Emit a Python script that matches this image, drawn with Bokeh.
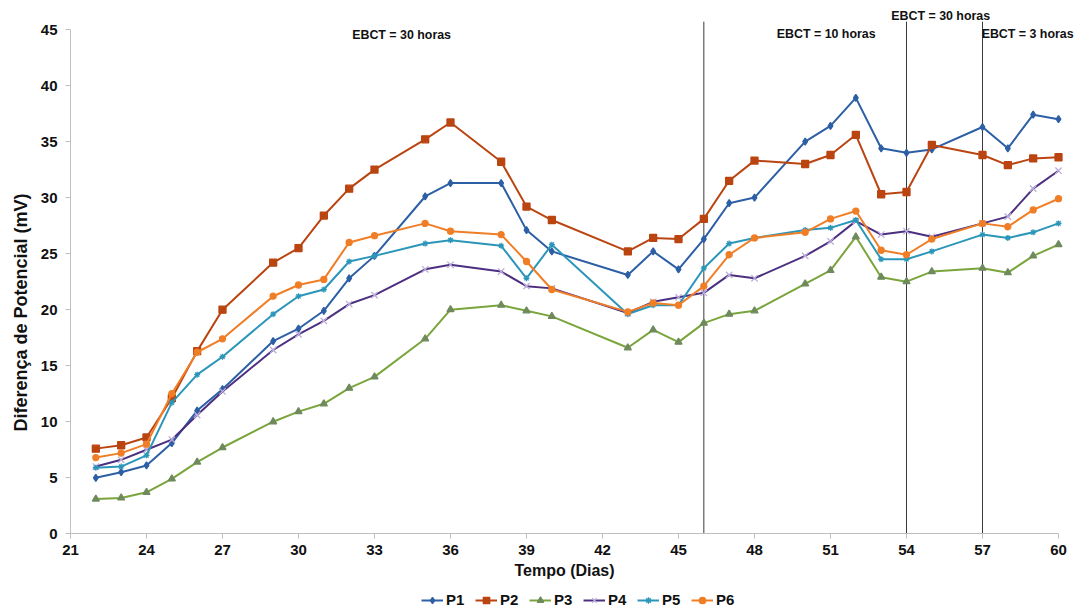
from bokeh.plotting import figure
from bokeh.models import (Range1d, FixedTicker, Label, Legend, LegendItem)
from bokeh.embed import file_html
from bokeh.resources import INLINE

# Sampling days
dias = [22, 23, 24, 25, 26, 27, 29, 30, 31, 32, 33, 35, 36, 38, 39, 40,
        43, 44, 45, 46, 47, 48, 50, 51, 52, 53, 54, 55, 57, 58, 59, 60]

# Potential difference (mV) for each point
p1 = [5.0, 5.5, 6.1, 8.1, 11.0, 12.9, 17.2, 18.3, 19.9, 22.8, 24.8, 30.1, 31.3, 31.3, 27.1, 25.2,
      23.1, 25.2, 23.6, 26.3, 29.5, 30.0, 35.0, 36.4, 38.9, 34.4, 34.0, 34.3, 36.3, 34.4, 37.4, 37.0]
p2 = [7.6, 7.9, 8.6, 12.1, 16.3, 20.0, 24.2, 25.5, 28.4, 30.8, 32.5, 35.2, 36.7, 33.2, 29.2, 28.0,
      25.2, 26.4, 26.3, 28.1, 31.5, 33.3, 33.0, 33.8, 35.6, 30.3, 30.5, 34.7, 33.8, 32.9, 33.5, 33.6]
p3 = [3.1, 3.2, 3.7, 4.9, 6.4, 7.7, 10.0, 10.9, 11.6, 13.0, 14.0, 17.4, 20.0, 20.4, 19.9, 19.4,
      16.6, 18.2, 17.1, 18.8, 19.6, 19.9, 22.3, 23.5, 26.5, 22.9, 22.5, 23.4, 23.7, 23.3, 24.8, 25.8]
p4 = [6.0, 6.6, 7.5, 8.4, 10.6, 12.7, 16.4, 17.8, 19.0, 20.5, 21.3, 23.6, 24.0, 23.4, 22.1, 21.9,
      19.7, 20.7, 21.1, 21.5, 23.1, 22.8, 24.8, 26.1, 27.9, 26.7, 27.0, 26.5, 27.7, 28.3, 30.8, 32.4]
p5 = [5.9, 6.0, 7.0, 11.7, 14.2, 15.8, 19.6, 21.2, 21.8, 24.3, 24.8, 25.9, 26.2, 25.7, 22.8, 25.8,
      19.6, 20.4, 20.4, 23.7, 25.9, 26.4, 27.1, 27.3, 28.0, 24.5, 24.5, 25.2, 26.7, 26.4, 26.9, 27.7]
p6 = [6.8, 7.2, 8.0, 12.5, 16.2, 17.4, 21.2, 22.2, 22.7, 26.0, 26.6, 27.7, 27.0, 26.7, 24.3, 21.8,
      19.8, 20.6, 20.4, 22.1, 24.9, 26.4, 26.9, 28.1, 28.8, 25.3, 24.9, 26.3, 27.7, 27.4, 28.9, 29.9]

series_names = ["P1", "P2", "P3", "P4", "P5", "P6"]
series_values = [p1, p2, p3, p4, p5, p6]

# Days where the EBCT regime changes, and the regime labels
mudancas = [46, 54, 57]
regimes = ["EBCT = 30 horas", "EBCT = 10 horas", "EBCT = 30 horas", "EBCT = 3 horas"]

x_ticks = list(range(21, 61, 3))
y_ticks = list(range(0, 46, 5))

FONT = "Liberation Sans"
INK = "#111111"

styles = [
    dict(color="#2D5FA5", marker="diamond", size=7, mfill="#2D5FA5", mline="#2D5FA5"),
    dict(color="#BA4511", marker="square", size=7, mfill="#BA4511", mline="#BA4511"),
    dict(color="#7AA53C", marker="triangle", size=7, mfill="#6F8A5C", mline="#6F8A5C"),
    dict(color="#4C2F80", marker="x", size=9, mfill=None, mline="#BBAEDA"),
    dict(color="#2B96B9", marker="asterisk", size=6, mfill=None, mline="#2B96B9"),
    dict(color="#F07E26", marker="circle", size=6, mfill="#F07E26", mline="#F07E26"),
]

# The frame spans the whole canvas; axes are pinned at x=21 and y=0 so that
# titles, regime labels and the legend can sit around them without clipping.
W, H = 1075, 608
X_PX = 988 / 39          # pixels per day
Y_PX = 504.3 / 45        # pixels per mV
x0 = 21 - 70 / X_PX
y0 = -(H - 533.3) / Y_PX

p = figure(width=W, height=H, output_backend="svg", toolbar_location=None,
           x_range=Range1d(x0, x0 + W / X_PX), y_range=Range1d(y0, y0 + H / Y_PX),
           min_border=0)
p.outline_line_color = None
p.xgrid.visible = False
p.ygrid.visible = False
p.background_fill_color = "white"
p.border_fill_color = "white"

for ax in (p.xaxis[0], p.yaxis[0]):
    ax.axis_line_color = "#BFBFBF"
    ax.major_tick_line_color = "#BFBFBF"
    ax.minor_tick_line_color = None
    ax.major_tick_in = 0
    ax.major_tick_out = 5
    ax.major_label_text_font = FONT
    ax.major_label_text_font_style = "bold"
    ax.major_label_text_font_size = "15px"
    ax.major_label_text_color = INK

p.xaxis.ticker = FixedTicker(ticks=x_ticks)
p.yaxis.ticker = FixedTicker(ticks=y_ticks)
p.xaxis.bounds = (21, 60)
p.yaxis.bounds = (0, 45)
p.xaxis.fixed_location = 0
p.yaxis.fixed_location = 21
p.xaxis.major_label_standoff = 6
p.yaxis.major_label_standoff = 8

p.xaxis.axis_label = "Tempo (Dias)"
p.xaxis.axis_label_text_font = FONT
p.xaxis.axis_label_text_font_style = "bold"
p.xaxis.axis_label_text_font_size = "16px"
p.xaxis.axis_label_text_color = INK
p.xaxis.axis_label_standoff = 4

# Rotated y title
p.add_layout(Label(x=x0 + 20 / X_PX, y=(533.3 - 312) / Y_PX, text="Diferença de Potencial (mV)",
                   angle=90, angle_units="deg", text_align="center", text_baseline="middle",
                   text_font=FONT, text_font_style="bold", text_font_size="18px",
                   text_color=INK))

# Regime change markers
p.segment(x0=mudancas, y0=[0] * len(mudancas), x1=mudancas, y1=[45.7] * len(mudancas),
          line_color="#3A3A3A", line_width=1)

items = []
for name, vals, st in zip(series_names, series_values, styles):
    lr = p.line(dias, vals, line_color=st["color"], line_width=2)
    sr = p.scatter(dias, vals, marker=st["marker"], size=st["size"],
                   fill_color=st["mfill"], line_color=st["mline"], line_width=1.3)
    items.append(LegendItem(label=name, renderers=[lr, sr]))

# Regime labels
for txt, (lx, ly) in zip(regimes, [(34.07, 44.53), (50.83, 44.6), (55.35, 46.2), (58.78, 44.6)]):
    p.add_layout(Label(x=lx, y=ly, text=txt, text_align="center", text_baseline="middle",
                       text_font=FONT, text_font_style="bold", text_font_size="12.4px",
                       text_color=INK))

legend = Legend(items=items, orientation="horizontal", location=(421, 0),
                padding=0, spacing=9, margin=0, glyph_width=22, glyph_height=16,
                label_height=16, label_standoff=3, border_line_color=None,
                background_fill_alpha=0,
                label_text_font=FONT, label_text_font_style="bold",
                label_text_font_size="15px", label_text_color=INK)
p.add_layout(legend, "center")

open("out.html", "w").write(file_html(p, INLINE))
